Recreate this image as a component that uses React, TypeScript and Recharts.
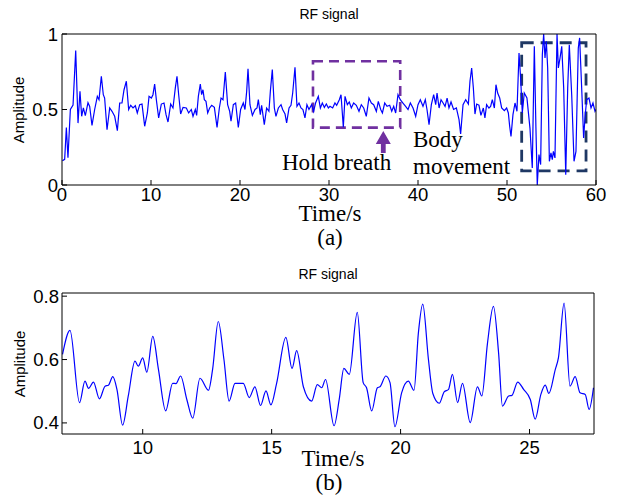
import { LineChart, Line, XAxis, YAxis, ReferenceArea, ReferenceDot } from "recharts";

// raw RF signal, (time s, amplitude)
const topSignal: [number, number][] = [
  [0.05, 0.16], [0.3, 0.17], [0.49, 0.38], [0.67, 0.18], [0.94, 0.5], [1.24, 0.53], [1.54, 0.89], [1.8, 0.41],
  [2.02, 0.62], [2.21, 0.455], [2.4, 0.51], [2.62, 0.46], [2.92, 0.545], [3.11, 0.52], [3.37, 0.395], [3.67, 0.5],
  [3.97, 0.587], [4.16, 0.565], [4.42, 0.72], [4.64, 0.598], [4.79, 0.576], [5.06, 0.366], [5.36, 0.51], [5.62, 0.488],
  [5.92, 0.455], [6.22, 0.36], [6.48, 0.543], [6.74, 0.543], [6.97, 0.631], [7.23, 0.687], [7.49, 0.5], [7.72, 0.528],
  [7.98, 0.51], [8.24, 0.525], [8.46, 0.477], [8.73, 0.532], [8.99, 0.536], [9.29, 0.389], [9.59, 0.477], [9.78, 0.587],
  [10.04, 0.576], [10.22, 0.598], [10.41, 0.669], [10.6, 0.565], [10.86, 0.444], [11.16, 0.536], [11.46, 0.543],
  [11.69, 0.466], [11.91, 0.417], [12.21, 0.536], [12.47, 0.51], [12.73, 0.642], [12.92, 0.72], [13.11, 0.598],
  [13.33, 0.47], [13.6, 0.514], [13.97, 0.51], [14.23, 0.477], [14.53, 0.5], [14.72, 0.455], [14.98, 0.5],
  [15.13, 0.461], [15.32, 0.587], [15.54, 0.669], [15.69, 0.598], [15.84, 0.631], [15.99, 0.565], [16.18, 0.554],
  [16.37, 0.477], [16.59, 0.51], [16.82, 0.528], [17.12, 0.514], [17.42, 0.382], [17.68, 0.51], [17.87, 0.576],
  [18.09, 0.565], [18.35, 0.748], [18.61, 0.532], [18.84, 0.488], [18.99, 0.422], [19.25, 0.532], [19.51, 0.543],
  [19.81, 0.382], [20.07, 0.5], [20.37, 0.543], [20.56, 0.5], [20.75, 0.62], [20.9, 0.77], [21.12, 0.532],
  [21.39, 0.461], [21.69, 0.5], [21.91, 0.51], [22.06, 0.565], [22.28, 0.466], [22.43, 0.528], [22.73, 0.4],
  [22.99, 0.51], [23.25, 0.488], [23.41, 0.62], [23.63, 0.764], [23.86, 0.51], [24.04, 0.455], [24.31, 0.51],
  [24.61, 0.532], [24.79, 0.5], [25.06, 0.47], [25.24, 0.411], [25.51, 0.51], [25.73, 0.528], [25.92, 0.609],
  [26.18, 0.779], [26.4, 0.521], [26.63, 0.543], [26.85, 0.51], [27.07, 0.5], [27.3, 0.444], [27.52, 0.532],
  [27.75, 0.5], [28.05, 0.532], [28.27, 0.488], [28.49, 0.543], [28.8, 0.587], [29.03, 0.51], [29.25, 0.543],
  [29.48, 0.514], [29.7, 0.536], [29.93, 0.51], [30.11, 0.521], [30.41, 0.51], [30.67, 0.543], [30.86, 0.528],
  [31.16, 0.565], [31.35, 0.598], [31.61, 0.382], [31.8, 0.587], [32.06, 0.532], [32.28, 0.55], [32.51, 0.51],
  [32.77, 0.543], [33.07, 0.528], [33.37, 0.488], [33.63, 0.532], [33.9, 0.51], [34.19, 0.455], [34.49, 0.576],
  [34.76, 0.543], [35.02, 0.532], [35.32, 0.488], [35.54, 0.554], [35.81, 0.5], [36.0, 0.477], [36.26, 0.543],
  [36.52, 0.521], [36.82, 0.528], [37.05, 0.488], [37.27, 0.521], [37.49, 0.477], [37.75, 0.598], [38.01, 0.565],
  [38.31, 0.543], [38.61, 0.521], [38.88, 0.5], [39.14, 0.543], [39.44, 0.51], [39.74, 0.455], [40.0, 0.532],
  [40.26, 0.565], [40.56, 0.521], [40.82, 0.565], [41.01, 0.5], [41.24, 0.4], [41.5, 0.532], [41.76, 0.598],
  [41.99, 0.532], [42.14, 0.609], [42.37, 0.51], [42.59, 0.565], [42.82, 0.543], [43.04, 0.521], [43.27, 0.576],
  [43.48, 0.51], [43.71, 0.55], [44.0, 0.5], [44.31, 0.51], [44.61, 0.433], [44.79, 0.338], [45.06, 0.532],
  [45.36, 0.565], [45.66, 0.536], [45.84, 0.687], [46.03, 0.775], [46.22, 0.642], [46.4, 0.47], [46.59, 0.536],
  [46.85, 0.528], [47.07, 0.461], [47.34, 0.51], [47.52, 0.444], [47.71, 0.532], [47.97, 0.51], [48.16, 0.521],
  [48.35, 0.565], [48.58, 0.51], [48.76, 0.664], [48.95, 0.609], [49.18, 0.576], [49.4, 0.51], [49.7, 0.492],
  [49.96, 0.51], [50.15, 0.477], [50.3, 0.389], [50.45, 0.322], [50.67, 0.466], [50.9, 0.543], [51.12, 0.488],
  [51.35, 0.874], [51.53, 0.709], [51.72, 0.477], [51.94, 0.609], [52.24, 0.576], [52.58, 0.377], [52.84, 0.113],
  [53.07, 0.918], [53.25, 0.377], [53.4, 0.0], [53.59, 0.201], [53.78, 0.135], [53.97, 0.863], [54.12, 1.0],
  [54.27, 0.841], [54.42, 0.952], [54.57, 0.775], [54.76, 0.157], [54.94, 0.212], [55.09, 0.168], [55.21, 0.223],
  [55.39, 0.179], [55.62, 1.0], [55.77, 0.775], [55.96, 0.841], [56.15, 0.918], [56.37, 0.642], [56.6, 0.068],
  [56.82, 0.642], [57.0, 0.929], [57.27, 0.598], [57.53, 0.157], [57.75, 0.223], [58.01, 0.907], [58.16, 0.974],
  [58.39, 0.642], [58.61, 0.311], [58.76, 0.444], [58.95, 0.565], [59.21, 0.576], [59.44, 0.51], [59.66, 0.543],
  [59.89, 0.488], [60.0, 0.5],
];

// zoomed, filtered segment 7-27.5 s
const zoomSignal: [number, number][] = [
  [6.89, 0.616], [7.18, 0.692], [7.55, 0.464], [7.76, 0.532], [7.9, 0.509], [8.09, 0.529], [8.32, 0.476],
  [8.54, 0.516], [8.67, 0.519], [8.84, 0.546], [9.0, 0.506], [9.22, 0.393], [9.44, 0.485], [9.7, 0.595],
  [9.83, 0.579], [10.0, 0.605], [10.16, 0.56], [10.39, 0.673], [10.61, 0.569], [10.89, 0.438], [11.16, 0.525],
  [11.29, 0.524], [11.47, 0.548], [11.71, 0.474], [11.94, 0.415], [12.22, 0.541], [12.55, 0.503], [12.71, 0.569],
  [12.93, 0.72], [13.15, 0.6], [13.35, 0.469], [13.58, 0.525], [13.9, 0.525], [14.13, 0.48], [14.35, 0.514],
  [14.57, 0.455], [14.78, 0.501], [14.97, 0.457], [15.19, 0.524], [15.55, 0.67], [15.79, 0.572], [15.97, 0.628],
  [16.23, 0.514], [16.55, 0.469], [16.77, 0.521], [16.94, 0.511], [17.09, 0.537], [17.42, 0.391], [17.62, 0.474],
  [17.8, 0.572], [18.01, 0.553], [18.32, 0.749], [18.55, 0.527], [18.68, 0.511], [18.88, 0.438], [19.1, 0.511],
  [19.2, 0.514], [19.43, 0.548], [19.59, 0.527], [19.78, 0.388], [20.04, 0.495], [20.3, 0.532], [20.52, 0.503],
  [20.69, 0.684], [20.86, 0.775], [21.08, 0.6], [21.25, 0.493], [21.5, 0.462], [21.69, 0.498], [21.86, 0.506],
  [22.01, 0.553], [22.21, 0.464], [22.4, 0.525], [22.7, 0.401], [22.98, 0.514], [23.15, 0.485], [23.37, 0.652],
  [23.6, 0.768], [23.8, 0.621], [23.95, 0.453], [24.19, 0.485], [24.32, 0.487], [24.54, 0.529], [24.77, 0.506],
  [25.03, 0.474], [25.22, 0.412], [25.44, 0.49], [25.61, 0.519], [25.75, 0.493], [26.0, 0.569], [26.12, 0.605],
  [26.34, 0.778], [26.57, 0.516], [26.77, 0.546], [26.96, 0.495], [27.16, 0.49], [27.31, 0.443], [27.48, 0.511],
];

const topXTicks = [0, 10, 20, 30, 40, 50, 60];
const topYTicks = [0, 0.5, 1];
const zoomXTicks = [10, 15, 20, 25];
const zoomYTicks = [0.4, 0.6, 0.8];

// annotation boxes: [t1, t2, amp1, amp2]
const holdBreathBox = [28.2, 38.0, 0.38, 0.82];
const bodyMoveBox = [51.65, 58.88, 0.093, 0.942];
const holdArrowAt = [36.1, 0.358];

const sans = "'Liberation Sans', Arial, sans-serif";
const serif = "'Liberation Serif', 'Times New Roman', serif";
const tickStyle = { fontSize: 18.5, fill: "#000", fontFamily: sans };

const topData = topSignal.map(([t, v]) => ({ t, v }));
const zoomData = zoomSignal.map(([t, v]) => ({ t, v }));

function UpArrow(props: any) {
  const { cx, cy } = props;
  return (
    <polygon
      fill="#7030A0"
      points={`${cx},${cy} ${cx + 7.5},${cy + 13} ${cx + 2.4},${cy + 13} ${cx + 2.4},${cy + 22} ${cx - 2.4},${cy + 22} ${cx - 2.4},${cy + 13} ${cx - 7.5},${cy + 13}`}
    />
  );
}

export default function App() {
  return (
    <div style={{ position: "absolute", left: 0, top: 0, width: 618, height: 500, background: "#fff" }}>
      <div style={{ position: "absolute", left: 0, top: 0 }}>
        <LineChart width={618} height={250} data={topData} margin={{ top: 24, right: 12, bottom: 35, left: 22 }}>
          <XAxis dataKey="t" type="number" domain={[0, 60]} ticks={topXTicks} allowDataOverflow height={30}
            tickSize={-5} tickMargin={8} tick={tickStyle} stroke="#000" interval={0} />
          <XAxis xAxisId="top" dataKey="t" orientation="top" type="number" domain={[0, 60]} ticks={topXTicks}
            allowDataOverflow height={10} tickSize={-5} tick={false} stroke="#000" interval={0} />
          <YAxis type="number" domain={[0, 1]} ticks={topYTicks} allowDataOverflow width={40}
            tickSize={-5} tickMargin={9} tick={tickStyle} stroke="#000" interval={0} />
          <YAxis yAxisId="r" orientation="right" type="number" domain={[0, 1]} ticks={topYTicks} allowDataOverflow
            width={10} tickSize={-5} tick={false} stroke="#000" interval={0} />
          <Line dataKey="v" type="linear" stroke="#0000FF" strokeWidth={1.2} dot={false} isAnimationActive={false} />
          <Line dataKey="v" xAxisId="top" yAxisId="r" stroke="none" dot={false} isAnimationActive={false} />
          <ReferenceArea x1={holdBreathBox[0]} x2={holdBreathBox[1]} y1={holdBreathBox[2]} y2={holdBreathBox[3]}
            fill="none" fillOpacity={0} stroke="#7030A0" strokeWidth={2.6} strokeDasharray="10 6" ifOverflow="visible" />
          <ReferenceArea x1={bodyMoveBox[0]} x2={bodyMoveBox[1]} y1={bodyMoveBox[2]} y2={bodyMoveBox[3]}
            fill="none" fillOpacity={0} stroke="#1F3864" strokeWidth={2.8} strokeDasharray="12 7" ifOverflow="visible" />
          <ReferenceDot x={holdArrowAt[0]} y={holdArrowAt[1]} r={0} shape={UpArrow} ifOverflow="visible" />
        </LineChart>
      </div>
      <div style={{ position: "absolute", left: 0, top: 250 }}>
        <LineChart width={618} height={250} data={zoomData} margin={{ top: 33, right: 14, bottom: 36, left: 22 }}>
          <XAxis dataKey="t" type="number" domain={[6.87, 27.5]} ticks={zoomXTicks} allowDataOverflow height={30}
            tickSize={-5} tickMargin={12} tick={tickStyle} stroke="#000" interval={0} />
          <XAxis xAxisId="top" dataKey="t" orientation="top" type="number" domain={[6.87, 27.5]} ticks={zoomXTicks}
            allowDataOverflow height={10} tickSize={-5} tick={false} stroke="#000" interval={0} />
          <YAxis type="number" domain={[0.365, 0.81]} ticks={zoomYTicks} allowDataOverflow width={40}
            tickSize={-5} tickMargin={8} tick={tickStyle} stroke="#000" interval={0}
            tickFormatter={(v: number) => v.toFixed(1)} />
          <YAxis yAxisId="r" orientation="right" type="number" domain={[0.365, 0.81]} ticks={zoomYTicks}
            allowDataOverflow width={10} tickSize={-5} tick={false} stroke="#000" interval={0} />
          <Line dataKey="v" type="monotone" stroke="#0000FF" strokeWidth={1.2} dot={false} isAnimationActive={false} />
          <Line dataKey="v" xAxisId="top" yAxisId="r" stroke="none" dot={false} isAnimationActive={false} />
        </LineChart>
      </div>
      <svg width={618} height={500} style={{ position: "absolute", left: 0, top: 0, pointerEvents: "none" }}>
        <g fontFamily={sans} fill="#000">
          <text x={329} y={19} fontSize={14} textAnchor="middle">RF signal</text>
          <text x={328} y={279} fontSize={14} textAnchor="middle">RF signal</text>
          <text x={24} y={110} fontSize={15} textAnchor="middle" transform="rotate(-90 24 110)">Amplitude</text>
          <text x={25} y={364} fontSize={15} textAnchor="middle" transform="rotate(-90 25 364)">Amplitude</text>
        </g>
        <g fontFamily={serif} fill="#000" fontSize={23}>
          <text x={330} y={221} textAnchor="middle">Time/s</text>
          <text x={330} y={245} textAnchor="middle">(a)</text>
          <text x={333} y={466} textAnchor="middle">Time/s</text>
          <text x={329} y={490} textAnchor="middle">(b)</text>
          <text x={282} y={170}>Hold breath</text>
          <text x={413} y={147}>Body</text>
          <text x={413} y={174}>movement</text>
        </g>
      </svg>
    </div>
  );
}
